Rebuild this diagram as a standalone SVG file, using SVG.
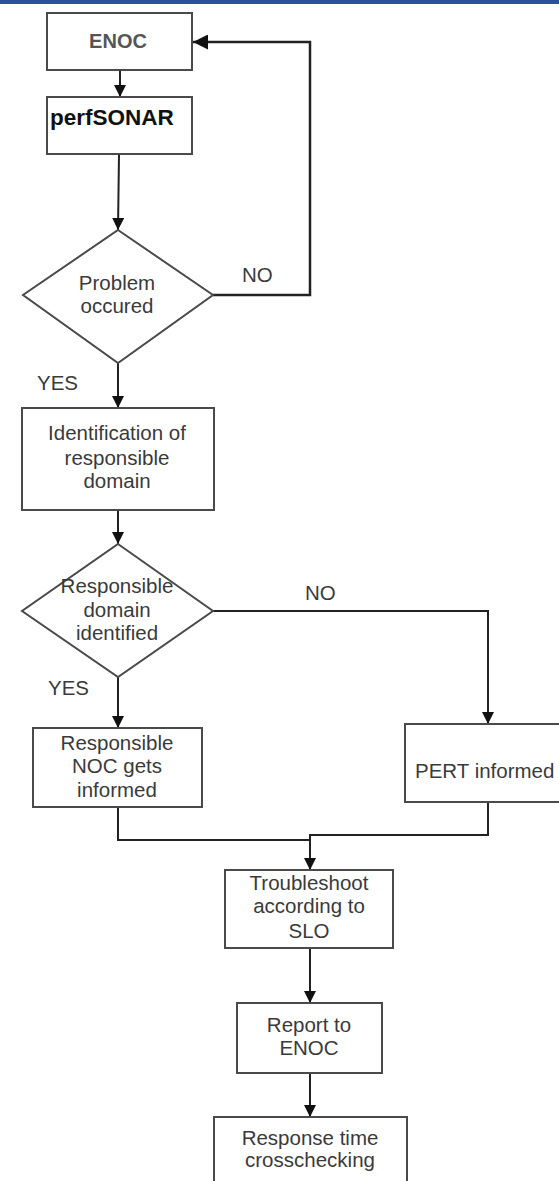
<svg xmlns="http://www.w3.org/2000/svg" width="559" height="1181" viewBox="0 0 559 1181">
<style>
.box{fill:#fff;stroke:#4a4a4a;stroke-width:2}
.t{font-family:"Liberation Sans",Arial,sans-serif;font-size:20.5px;fill:#3a3a3a;text-anchor:middle}
.l{font-family:"Liberation Sans",Arial,sans-serif;font-size:20.5px;fill:#3a3a3a}
.c{fill:none;stroke:#222;stroke-width:2}
</style>
<defs>
<marker id="ah" viewBox="0 0 10 10" refX="10" refY="5" markerWidth="6" markerHeight="6" markerUnits="strokeWidth" orient="auto">
<path d="M0,0 L10,5 L0,10 z" fill="#111"/>
</marker>
</defs>
<rect width="559" height="1181" fill="#fff"/>
<rect x="0" y="0" width="559" height="4" fill="#2d4f99"/>
<g id="connectors">
<line class="c" x1="120" y1="70" x2="120" y2="97" marker-end="url(#ah)"/>
<line class="c" x1="119" y1="154" x2="118" y2="230" marker-end="url(#ah)"/>
<polyline class="c" style="stroke-width:2.5" points="213,295 310,295 310,42 193,42" marker-end="url(#ah)"/>
<line class="c" x1="118" y1="363" x2="118" y2="408" marker-end="url(#ah)"/>
<line class="c" x1="118" y1="510" x2="118" y2="544" marker-end="url(#ah)"/>
<polyline class="c" points="213,611 488,611 488,724" marker-end="url(#ah)"/>
<line class="c" x1="118" y1="677" x2="118" y2="728" marker-end="url(#ah)"/>
<polyline class="c" points="118,807 118,840 310,840"/>
<polyline class="c" points="488,802 488,835 310,835 310,870" marker-end="url(#ah)"/>
<line class="c" x1="310" y1="948" x2="310" y2="1003" marker-end="url(#ah)"/>
<line class="c" x1="310" y1="1073" x2="310" y2="1117" marker-end="url(#ah)"/>
</g>
<g id="enoc"><rect class="box" x="47" y="13" width="145" height="57"/><text class="t" x="118" y="48" style="font-weight:bold;fill:#555;font-size:20px">ENOC</text></g>
<g id="perfsonar"><rect class="box" x="47" y="97" width="145" height="57"/><text x="50" y="125" style="font-family:'Liberation Sans',Arial,sans-serif;font-size:22.5px;font-weight:bold;fill:#111">perfSONAR</text></g>
<g id="problem"><polygon class="box" points="118,230 213,295 118,363 23,295"/><text class="t" x="117" y="290">Problem</text><text class="t" x="117" y="313">occured</text></g>
<g id="identification"><rect class="box" x="22" y="408" width="192" height="102"/><text class="t" x="117" y="440">Identification of</text><text class="t" x="117" y="465">responsible</text><text class="t" x="117" y="488">domain</text></g>
<g id="identified"><polygon class="box" points="118,544 213,611 118,677 22,611"/><text class="t" x="117" y="593">Responsible</text><text class="t" x="117" y="617">domain</text><text class="t" x="117" y="640">identified</text></g>
<g id="noc"><rect class="box" x="33" y="728" width="169" height="79"/><text class="t" x="117" y="750">Responsible</text><text class="t" x="117" y="773">NOC gets</text><text class="t" x="117" y="797">informed</text></g>
<g id="pert"><rect class="box" x="405" y="724" width="165" height="78"/><text class="l" x="415" y="778">PERT informed</text></g>
<g id="troubleshoot"><rect class="box" x="225" y="870" width="168" height="78"/><text class="t" x="309" y="890">Troubleshoot</text><text class="t" x="309" y="913">according to</text><text class="t" x="309" y="938">SLO</text></g>
<g id="report"><rect class="box" x="237" y="1003" width="145" height="70"/><text class="t" x="309" y="1032">Report to</text><text class="t" x="309" y="1055">ENOC</text></g>
<g id="response"><rect class="box" x="214" y="1117" width="193" height="80"/><text class="t" x="310" y="1145">Response time</text><text class="t" x="310" y="1167">crosschecking</text></g>
<g id="labels">
<text class="l" x="242" y="282">NO</text>
<text class="l" x="37" y="390">YES</text>
<text class="l" x="305" y="600">NO</text>
<text class="l" x="48" y="695">YES</text>
</g>
</svg>
